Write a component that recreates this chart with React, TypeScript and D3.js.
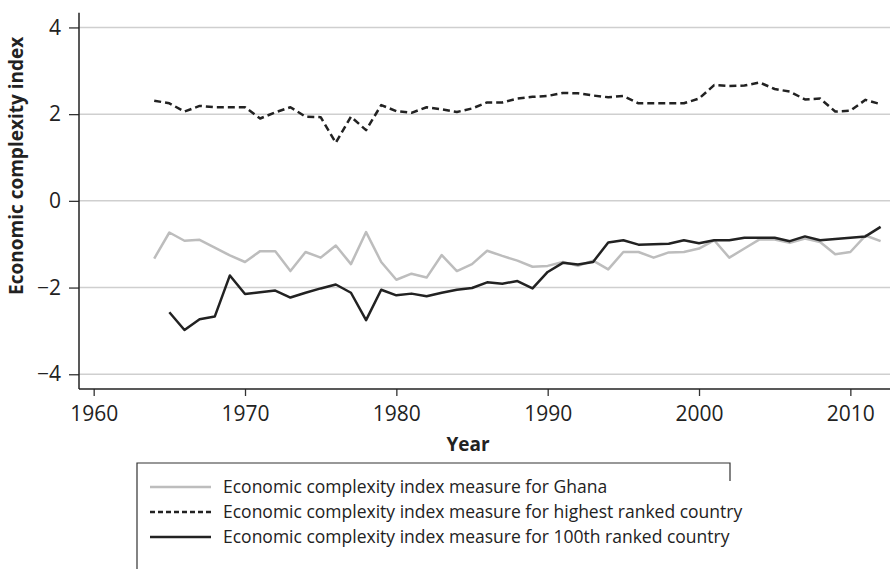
import React, { useEffect, useRef } from 'react';
import * as d3 from 'd3';

const years = [
  1964, 1965, 1966, 1967, 1968, 1969, 1970, 1971, 1972, 1973,
  1974, 1975, 1976, 1977, 1978, 1979, 1980, 1981, 1982, 1983,
  1984, 1985, 1986, 1987, 1988, 1989, 1990, 1991, 1992, 1993,
  1994, 1995, 1996, 1997, 1998, 1999, 2000, 2001, 2002, 2003,
  2004, 2005, 2006, 2007, 2008, 2009, 2010, 2011, 2012
];

const ghana = [
  -1.33, -0.73, -0.92, -0.9, -1.08, -1.26, -1.41, -1.16, -1.16, -1.62,
  -1.18, -1.31, -1.03, -1.46, -0.72, -1.41, -1.82, -1.68, -1.77, -1.25,
  -1.62, -1.46, -1.15, -1.27, -1.38, -1.52, -1.5, -1.41, -1.5, -1.38,
  -1.58, -1.18, -1.18, -1.31, -1.19, -1.18, -1.1, -0.91, -1.31, -1.1,
  -0.89, -0.89, -0.97, -0.87, -0.95, -1.23, -1.18, -0.8, -0.93
];

const highest = [
  2.31, 2.25, 2.06, 2.19, 2.16, 2.16, 2.16, 1.9, 2.04, 2.16,
  1.94, 1.93, 1.34, 1.94, 1.63, 2.21, 2.07, 2.03, 2.16, 2.11,
  2.05, 2.13, 2.27, 2.27, 2.36, 2.4, 2.42, 2.49, 2.48, 2.43,
  2.39, 2.42, 2.25, 2.25, 2.25, 2.25, 2.36, 2.67, 2.65, 2.66,
  2.73, 2.58, 2.52, 2.34, 2.36, 2.06, 2.08, 2.33, 2.23
];

const rank100 = [
  null, -2.57, -2.98, -2.73, -2.67, -1.72, -2.15, -2.11, -2.07, -2.23,
  -2.12, -2.02, -1.93, -2.12, -2.75, -2.05, -2.18, -2.14, -2.2, -2.12,
  -2.05, -2.01, -1.88, -1.91, -1.85, -2.02, -1.64, -1.43, -1.47, -1.41,
  -0.96, -0.91, -1.01, -1.0, -0.99, -0.91, -0.98, -0.91, -0.91, -0.85,
  -0.85, -0.85, -0.93, -0.82, -0.91, -0.88, -0.85, -0.82, -0.6
];

const xTicks = [1960, 1970, 1980, 1990, 2000, 2010];
const yTicks = [4, 2, 0, -2, -4];

const legendLabels = [
  'Economic complexity index measure for Ghana',
  'Economic complexity index measure for highest ranked country',
  'Economic complexity index measure for 100th ranked country'
];

const FONT = '"Open Sans", "Noto Sans", sans-serif';

const width = 890;
const height = 569;

const EciChart: React.FC = () => {
  const svgRef = useRef<SVGSVGElement>(null);

  useEffect(() => {
    if (!svgRef.current) return;
    const svg = d3.select(svgRef.current);
    svg.selectAll('*').remove();

    const left = 79;
    const top = 12.7;
    const bottom = 389;
    const right = width;

    const x = d3.scaleLinear().domain([1959.03, 2012.62]).range([left, right]);
    const y = d3.scaleLinear().domain([-4.34, 4.34]).range([bottom, top]);

    // gridlines
    svg.append('g')
      .selectAll('line')
      .data(yTicks)
      .enter()
      .append('line')
      .attr('x1', left)
      .attr('x2', right)
      .attr('y1', d => y(d))
      .attr('y2', d => y(d))
      .attr('stroke', '#cfcfcf')
      .attr('stroke-width', 1.5);

    // y axis
    const yAxis = d3.axisLeft(y)
      .tickValues(yTicks)
      .tickSize(10)
      .tickPadding(8)
      .tickFormat(d => (+d < 0 ? '\u2212' + Math.abs(+d) : String(d)));
    const gy = svg.append('g')
      .attr('transform', `translate(${left},0)`)
      .call(yAxis);
    gy.select('.domain').remove();
    gy.append('line')
      .attr('x1', 0).attr('x2', 0)
      .attr('y1', top).attr('y2', bottom)
      .attr('stroke', '#222').attr('stroke-width', 1.5);

    // x axis
    const xAxis = d3.axisBottom(x)
      .tickValues(xTicks)
      .tickSize(7)
      .tickPadding(10)
      .tickFormat(d3.format('d'));
    const gx = svg.append('g')
      .attr('transform', `translate(0,${bottom})`)
      .call(xAxis);
    gx.select('.domain').remove();
    gx.append('line')
      .attr('x1', left).attr('x2', right)
      .attr('y1', 0).attr('y2', 0)
      .attr('stroke', '#222').attr('stroke-width', 1.5);

    [gx, gy].forEach(g => {
      g.selectAll('.tick line').attr('stroke', '#333').attr('stroke-width', 1.3);
      g.selectAll('.tick text')
        .attr('fill', '#222')
        .style('font-family', FONT)
        .style('font-size', '21px');
    });

    // axis titles
    svg.append('text')
      .attr('x', 468)
      .attr('y', 451)
      .attr('text-anchor', 'middle')
      .style('font-family', FONT)
      .style('font-size', '19px')
      .style('font-weight', 'bold')
      .attr('fill', '#222')
      .text('Year');

    svg.append('text')
      .attr('transform', 'rotate(-90)')
      .attr('x', -(top + bottom) / 2 + 35)
      .attr('y', 23)
      .attr('text-anchor', 'middle')
      .style('font-family', FONT)
      .style('font-size', '19px')
      .style('font-weight', 'bold')
      .attr('fill', '#222')
      .text('Economic complexity index');

    // lines
    const series = [
      { values: ghana, color: '#bdbdbd', dash: null },
      { values: highest, color: '#222', dash: '7,4' },
      { values: rank100, color: '#222', dash: null }
    ];

    const line = d3.line<[number, number | null]>()
      .defined(d => d[1] !== null)
      .x(d => x(d[0]))
      .y(d => y(d[1] as number));

    series.forEach(s => {
      const pts = years.map((yr, i) => [yr, s.values[i]] as [number, number | null]);
      svg.append('path')
        .datum(pts)
        .attr('d', line)
        .attr('fill', 'none')
        .attr('stroke', s.color)
        .attr('stroke-width', 2.5)
        .attr('stroke-linejoin', 'round')
        .attr('stroke-dasharray', s.dash);
    });

    // legend (frame is cut off at the bottom and right, as in the source)
    const lg = svg.append('g');
    const bx0 = 137;
    const bx1 = 730;
    const by0 = 463;
    lg.append('path')
      .attr('d', `M${bx0},${height + 5}V${by0}H${bx1}V${by0 + 18}`)
      .attr('fill', 'none')
      .attr('stroke', '#333')
      .attr('stroke-width', 1.2);

    legendLabels.forEach((label, i) => {
      const s = series[i];
      const cy = 487 + i * 25;
      lg.append('line')
        .attr('x1', 150)
        .attr('x2', 211)
        .attr('y1', cy)
        .attr('y2', cy)
        .attr('stroke', s.color)
        .attr('stroke-width', 2.5)
        .attr('stroke-dasharray', s.dash === null ? null : '5,3');
      lg.append('text')
        .attr('x', 223)
        .attr('y', cy)
        .attr('dy', '0.35em')
        .style('font-family', FONT)
        .style('font-size', '17.5px')
        .attr('fill', '#222')
        .text(label);
    });
  }, []);

  return (
    <svg
      ref={svgRef}
      width={width}
      height={height}
      style={{ position: 'absolute', left: 0, top: 0, background: 'white' }}
    />
  );
};

export default function App() {
  return <EciChart />;
}
